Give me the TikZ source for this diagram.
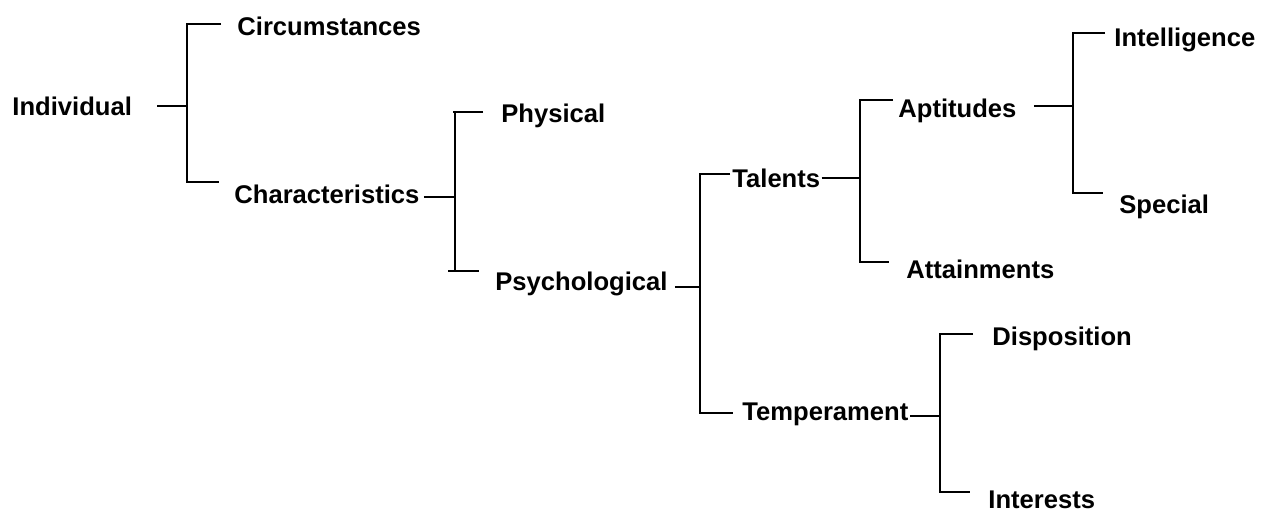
\documentclass[tikz,border=0pt]{standalone}
\usepackage{fontspec}
\setmainfont{Liberation Sans}

\begin{document}
\begin{tikzpicture}[x=0.5pt, y=-0.5pt, line width=1.4pt,
		lbl/.style={anchor=base west, inner sep=0pt, font=\bfseries\fontsize{12.8}{15}\selectfont}]
		\useasboundingbox (0,0) rectangle (1265,511);

		\node [lbl] (ind) at (11,115) {Individual};
		\node [lbl] (circ) at (236,35) {Circumstances};
		\node [lbl] (chr) at (233,203) {Characteristics};
		\node [lbl] (phy) at (500,122) {Physical};
		\node [lbl] (psy) at (494,290) {Psychological};
		\node [lbl] (tal) at (731,187) {Talents};
		\node [lbl] (tem) at (741,420) {Temperament};
		\node [lbl] (apt) at (897,117) {Aptitudes};
		\node [lbl] (att) at (905,278) {Attainments};
		\node [lbl] (intl) at (1113,46) {Intelligence};
		\node [lbl] (spc) at (1118,213) {Special};
		\node [lbl] (dsp) at (991,345) {Disposition};
		\node [lbl] (intr) at (987,508) {Interests};

		\coordinate (indT) at (187,24);  \coordinate (indM) at (187,106); \coordinate (indB) at (187,182);
		\coordinate (chrT) at (455,112); \coordinate (chrM) at (455,197); \coordinate (chrB) at (455,270);
		\coordinate (psyT) at (700,174); \coordinate (psyM) at (700,287); \coordinate (psyB) at (700,413);
		\coordinate (talT) at (860,100); \coordinate (talM) at (860,178); \coordinate (talB) at (860,262);
		\coordinate (aptT) at (1073,33); \coordinate (aptM) at (1073,106); \coordinate (aptB) at (1073,193);
		\coordinate (temT) at (940,334); \coordinate (temM) at (940,416); \coordinate (temB) at (940,492);

		\draw ([xshift=12pt]ind.east |- indM) -- (indM);
		\draw (indT) ++(34,0) -- (indT) -- (indB) -- ++(32,0);

		\draw ([xshift=1.5pt]chr.east |- chrM) -- (chrM);
		\draw (chrT) ++(28,0) -- ++(-30,0) (chrT) -- (chrB) ++(-7,1) -- ++(31,0);

		\draw ([xshift=3pt]psy.east |- psyM) -- (psyM);
		\draw (psyT) ++(30,0) -- (psyT) -- (psyB) -- ++(33,0);

		\draw (tal.east |- talM) -- (talM);
		\draw (talT) ++(33,0) -- (talT) -- (talB) -- ++(29,0);

		\draw ([xshift=8pt]apt.east |- aptM) -- (aptM);
		\draw (aptT) ++(32,0) -- (aptT) -- (aptB) -- ++(30,0);

		\draw (tem.east |- temM) -- (temM);
		\draw (temT) ++(33,0) -- (temT) -- (temB) -- ++(30,0);
	\end{tikzpicture}
\end{document}
